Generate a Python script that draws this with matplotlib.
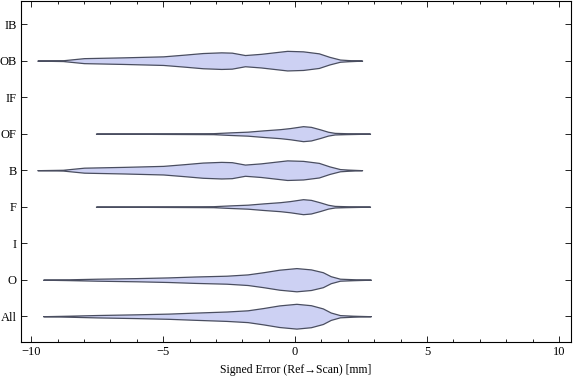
"""Violin chart of signed scan error per surface group."""

import matplotlib
matplotlib.use("Agg")
import matplotlib.pyplot as plt
import numpy as np
from matplotlib.ticker import MultipleLocator

# categories bottom to top
CATEGORIES = ["All", "O", "I", "F", "B", "OF", "IF", "OB", "IB"]

# half-width profiles (density, arbitrary units)
ALL_X = [-9.55, -8.6, -7.5, -6.0, -4.8, -3.8, -2.6, -1.8, -1.2, -0.6, 0.05, 0.6, 1.05, 1.35, 1.7, 2.2, 2.87]
ALL_W = [0, 0.5, 1.2, 1.9, 2.6, 3.6, 4.7, 5.9, 8.2, 10.8, 12.4, 11.0, 7.8, 3.7, 1.1, 0.5, 0]

O_X = [-9.55, -8.6, -7.5, -6.0, -4.8, -3.8, -2.6, -1.8, -1.2, -0.6, 0.05, 0.6, 1.05, 1.35, 1.7, 2.2, 2.87]
O_W = [0, 0.4, 1.0, 1.6, 2.3, 3.2, 4.0, 5.3, 7.5, 10.0, 11.6, 10.3, 7.5, 3.5, 1.0, 0.5, 0]

F_X = [-7.55, -5.5, -3.1, -2.46, -1.8, -1.2, -0.57, -0.19, 0.3, 0.6, 0.95, 1.25, 1.5, 1.9, 2.84]
F_W = [0, 0.2, 0.5, 1.3, 2.0, 3.3, 4.5, 5.6, 7.5, 6.8, 4.3, 1.9, 0.8, 0.5, 0]

B_X = [-9.77, -8.8, -8.0, -6.5, -5.0, -4.2, -3.5, -2.8, -2.4, -1.9, -1.3, -0.3, 0.3, 0.9, 1.3, 1.7, 2.0, 2.54]
B_W = [0, 0.4, 2.5, 3.3, 4.3, 6.0, 7.6, 8.3, 8.0, 5.6, 6.8, 9.8, 9.3, 7.3, 3.8, 1.1, 0.6, 0]

# OF and OB share the F and B profiles; I, IF, IB have no data
PROFILES = {
    "All": (ALL_X, ALL_W), "O": (O_X, O_W), "F": (F_X, F_W), "B": (B_X, B_W),
    "OF": (F_X, F_W), "OB": (B_X, B_W),
}

WIDTH_SCALE = 1 / 36.5
FILL = "#cdd1f3"
EDGE = "#4a4e60"
SERIF = ["Liberation Serif", "DejaVu Serif"]

fig = plt.figure(figsize=(5.76, 3.81), dpi=100)
ax = fig.add_axes([0.036, 0.102, 0.955, 0.895])

for pos, name in enumerate(CATEGORIES, start=1):
    if name not in PROFILES:
        continue
    xs, ws = PROFILES[name]
    w = np.asarray(ws) * WIDTH_SCALE
    ax.fill_between(xs, pos - w, pos + w, facecolor=FILL, edgecolor=EDGE, linewidth=0.9)

ax.set_xlim(-10.4, 10.45)
ax.set_ylim(0.29, 9.63)
ax.set_yticks(range(1, len(CATEGORIES) + 1))
ax.set_yticklabels(CATEGORIES, family=SERIF, fontsize=9)
ax.set_xticks([-10, -5, 0, 5, 10])
ax.set_xticklabels(["\u221210", "\u22125", "0", "5", "10"], family=SERIF, fontsize=9)
ax.xaxis.set_minor_locator(MultipleLocator(1))
ax.tick_params(which="both", direction="in", top=True, right=True, width=0.6, pad=3)
ax.tick_params(which="major", length=4.5)
ax.tick_params(which="minor", length=2.5)
for spine in ax.spines.values():
    spine.set_linewidth(0.8)
ax.set_xlabel("Signed Error (Ref\u2192Scan) [mm]", family=SERIF, fontsize=8.5, labelpad=4)

fig.savefig("out.png", dpi=100)
